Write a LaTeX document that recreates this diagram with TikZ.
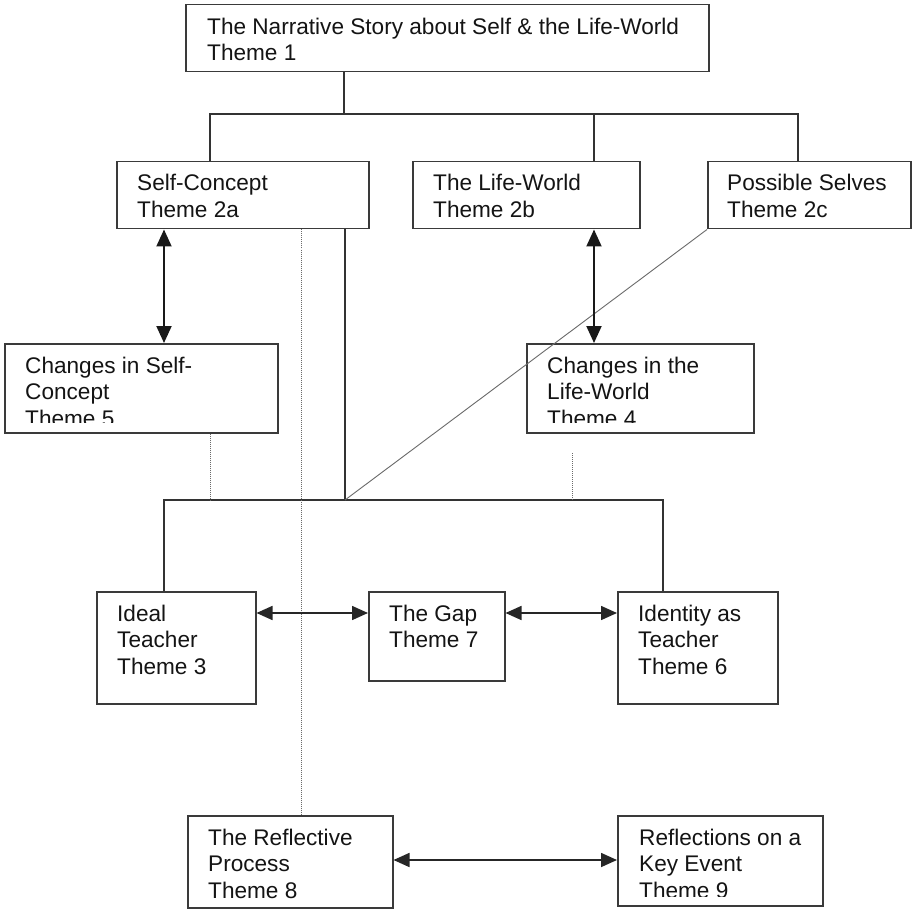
\documentclass[tikz,border=0pt]{standalone}
\usepackage{fontspec}
\setmainfont{Liberation Sans}
\usetikzlibrary{arrows.meta}
\definecolor{boxgray}{HTML}{3A3A3A}
\definecolor{linegray}{HTML}{333333}
\definecolor{dotgray}{HTML}{6A6A6A}
\definecolor{inkblack}{HTML}{141414}
\newcommand{\lines}[1]{\begin{tabular}[t]{@{}l@{}}#1\end{tabular}}
\begin{document}
\begin{tikzpicture}[x=1pt,y=-1pt,
  box/.style={draw=boxgray, line width=1.5pt, rectangle, inner sep=0pt, anchor=north west},
  boxtext/.style={anchor=base west, inner sep=0pt, text=inkblack,
    font=\fontsize{22.6}{26.5}\selectfont},
  conn/.style={draw=linegray, line width=1.5pt},
  dotline/.style={draw=dotgray, line width=1pt, dash pattern=on 1pt off 1pt},
  thinline/.style={draw=dotgray, line width=0.9pt},
  vboth/.style={draw=black!90, line width=2pt,
    {Triangle[length=17pt,width=15pt]}-{Triangle[length=17pt,width=15pt]}},
  hboth/.style={draw=black!85, line width=1.6pt,
    {Triangle[length=16pt,width=14pt]}-{Triangle[length=16pt,width=14pt]}}]

\useasboundingbox[fill=white] (0,0) rectangle (913,912);

% theme boxes
\node[box, minimum width=523pt, minimum height=67pt]  (b1)  at (185,4)   {};
\node[box, minimum width=252pt, minimum height=67pt]  (b2a) at (116,161) {};
\node[box, minimum width=227pt, minimum height=67pt]  (b2b) at (412,161) {};
\node[box, minimum width=203pt, minimum height=67pt]  (b2c) at (707,161) {};
\node[box, minimum width=273pt, minimum height=89pt]  (b5)  at (4,343)   {};
\node[box, minimum width=227pt, minimum height=89pt]  (b4)  at (526,343) {};
\node[box, minimum width=159pt, minimum height=112pt] (b3)  at (96,591)  {};
\node[box, minimum width=136pt, minimum height=89pt]  (b7)  at (368,591) {};
\node[box, minimum width=160pt, minimum height=112pt] (b6)  at (617,591) {};
\node[box, minimum width=205pt, minimum height=92pt]  (b8)  at (187,815) {};
\node[box, minimum width=205pt, minimum height=90pt]  (b9)  at (617,815) {};

% box texts (the last line of three boxes runs past the text area and is cut off)
\node[boxtext] (b1t)  at ([shift={(22,30.5)}]b1.north west)  {\lines{The Narrative Story about Self \& the Life-World\\Theme 1}};
\node[boxtext] (b2at) at ([shift={(21,30)}]b2a.north west) {\lines{Self-Concept\\Theme 2a}};
\node[boxtext] (b2bt) at ([shift={(21,30)}]b2b.north west) {\lines{The Life-World\\Theme 2b}};
\node[boxtext] (b2ct) at ([shift={(20,30)}]b2c.north west) {\lines{Possible Selves\\Theme 2c}};
\begin{scope}
  \clip (b5.north west) rectangle ([yshift=11pt]b5.south east);
  \node[boxtext] (b5t) at ([shift={(21,30)}]b5.north west) {\lines{Changes in Self-\\Concept\\Theme 5}};
\end{scope}
\begin{scope}
  \clip (b4.north west) rectangle ([yshift=11pt]b4.south east);
  \node[boxtext] (b4t) at ([shift={(21,30)}]b4.north west) {\lines{Changes in the\\Life-World\\Theme 4}};
\end{scope}
\node[boxtext] (b3t) at ([shift={(21,30)}]b3.north west) {\lines{Ideal\\Teacher\\Theme 3}};
\node[boxtext] (b7t) at ([shift={(21,30)}]b7.north west) {\lines{The Gap\\Theme 7}};
\node[boxtext] (b6t) at ([shift={(21,30)}]b6.north west) {\lines{Identity as\\Teacher\\Theme 6}};
\node[boxtext] (b8t) at ([shift={(21,30)}]b8.north west) {\lines{The Reflective\\Process\\Theme 8}};
\begin{scope}
  \clip (b9.north west) rectangle ([yshift=10pt]b9.south east);
  \node[boxtext] (b9t) at ([shift={(22,30)}]b9.north west) {\lines{Reflections on a\\Key Event\\Theme 9}};
\end{scope}

% junction points
\coordinate (top) at (344,114);
\coordinate (hl)  at (210,114);
\coordinate (hm)  at (594,114);
\coordinate (hr)  at (798,114);
\coordinate (barL) at (164,500);
\coordinate (barM) at (345,500);
\coordinate (barR) at (663,500);
\coordinate (xd)  at (301,0);
\coordinate (xe)  at (210,0);
\coordinate (ft)  at (572,453);
\coordinate (ya)  at (0,613);
\coordinate (yb)  at (0,860);

% tree below theme 1
\draw[conn] (b1.south -| top) -- (top);
\draw[conn] (b2a.north -| hl) -- (hl) -- (hr) -- (b2c.north -| hr);
\draw[conn] (hm) -- (b2b.north -| hm);

% lower bracket
\draw[conn] (b3.north -| barL) -- (barL) -- (barR) -- (b6.north -| barR);
\draw[conn] (b2a.south -| barM) -- (barM);
\draw[thinline] (b2c.south west) -- (barM);

% dotted links
\draw[dotline] (b5.south -| xe) -- (xe |- barL);
\draw[dotline] (b2a.south -| xd) -- (b8.north -| xd);
\draw[dotline] (ft) -- (ft |- barL);

% two-way arrows
\draw[vboth] (b2a.south -| barL) -- (b5.north -| barL);
\draw[vboth] (b2b.south -| hm) -- (b4.north -| hm);
\draw[hboth] (b3.east |- ya) -- (b7.west |- ya);
\draw[hboth] (b7.east |- ya) -- (b6.west |- ya);
\draw[hboth] (b8.east |- yb) -- (b9.west |- yb);

\end{tikzpicture}
\end{document}
